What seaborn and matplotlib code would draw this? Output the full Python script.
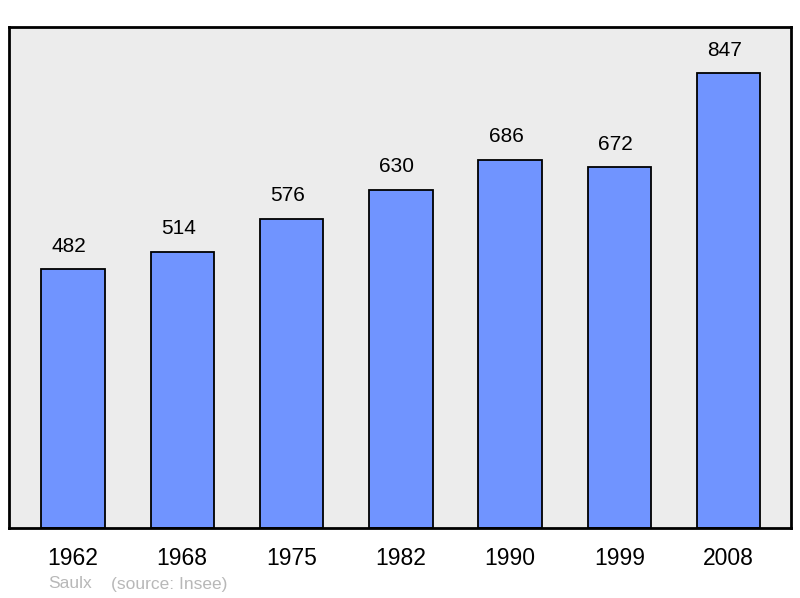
import matplotlib
matplotlib.use("Agg")
import matplotlib.pyplot as plt
import seaborn as sns
import pandas as pd

years = ["1962", "1968", "1975", "1982", "1990", "1999", "2008"]
population = [482, 514, 576, 630, 686, 672, 847]
commune = "Saulx"
source = "(source: Insee)"

df = pd.DataFrame({"year": years, "pop": population})

sns.set_theme(style="white")
plt.rcParams["font.family"] = ["Liberation Sans", "DejaVu Sans"]

fig = plt.figure(figsize=(8, 5.98), dpi=100)
ax = fig.add_axes([9/800, 1 - 528/598, 782/800, 501/598])
ax.set_facecolor("#ececec")

sns.barplot(data=df, x="year", y="pop", color="#7094ff", saturation=1,
            width=0.58, edgecolor="black", linewidth=1.3, ax=ax)

for i, v in enumerate(population):
    ax.annotate(str(v), xy=(i, v), xytext=(-4, 23), textcoords="offset pixels",
                ha="center", va="center", fontsize=15, color="black")

ax.set_ylim(0, 933)
ax.set_xlim(-0.585, 6.57)
ax.set_yticks([])
ax.set_xlabel("")
ax.set_ylabel("")
ax.tick_params(axis="x", length=0, labelsize=16.5, pad=14, colors="black")
for s in ax.spines.values():
    s.set_visible(True)
    s.set_color("black")
    s.set_linewidth(2)

fig.text(48/800, 1 - 584/598, commune, fontsize=12.5, color="#b8b8b8", va="center")
fig.text(111/800, 1 - 584/598, source, fontsize=12.5, color="#b8b8b8", va="center")

fig.savefig("out.png", dpi=100)
